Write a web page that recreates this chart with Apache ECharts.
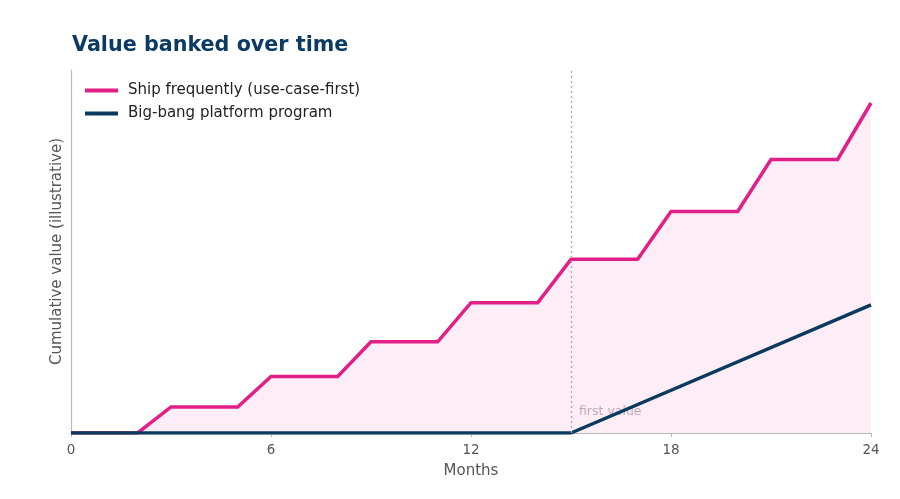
<!DOCTYPE html>
<html>
<head>
<meta charset="utf-8">
<script src="https://cdn.jsdelivr.net/npm/echarts@6/dist/echarts.min.js"></script>
<style>
html,body{margin:0;padding:0;background:#fff;}
#c{width:900px;height:499px;}
</style>
</head>
<body>
<div id="c"></div>
<script>
const months = [0,1,2,3,4,5,6,7,8,9,10,11,12,13,14,15,16,17,18,19,20,21,22,23,24];
const shipValues = [0,0,0,6,6,6,13,13,13,21,21,21,30,30,30,40,40,40,51,51,51,63,63,63,76];
const bigBangMonths = [0,15,24];
const bigBangValues = [0,0,29.5];
const xTicks = [0,6,12,18,24];
const firstValueMonth = 15;
const seriesNames = ['Ship frequently (use-case-first)','Big-bang platform program'];

const FONT = 'DejaVu Sans';
const PINK = '#e21f86';
const NAVY = '#0b3a5e';

const chart = echarts.init(document.getElementById('c'));
chart.setOption({
  animation: false,
  backgroundColor: '#fff',
  textStyle: {fontFamily: FONT},
  title: {
    text: 'Value banked over time',
    left: 67, top: 30,
    textStyle: {fontFamily: FONT, fontWeight: 'bold', fontSize: 20.7, color: '#0b3a63'}
  },
  legend: {
    orient: 'vertical', left: 80, top: 78, itemGap: 8,
    icon: 'rect', itemWidth: 33, itemHeight: 4,
    textStyle: {fontFamily: FONT, fontSize: 15, color: '#222', padding: [0,0,0,5]},
    data: seriesNames
  },
  grid: {left: 71, right: 29, top: 70, bottom: 66},
  xAxis: {
    type: 'value', min: 0, max: 24, interval: 6,
    name: 'Months', nameLocation: 'middle', nameGap: 31,
    nameTextStyle: {fontFamily: FONT, fontSize: 15, color: '#555'},
    axisLine: {lineStyle: {color: '#bbb', width: 1.2}},
    axisTick: {show: true, length: 4, lineStyle: {color: '#bbb'}},
    axisLabel: {fontFamily: FONT, fontSize: 13.5, color: '#555', margin: 10,
      customValues: xTicks},
    splitLine: {show: false}
  },
  yAxis: {
    type: 'value', min: 0, max: 83.6,
    name: 'Cumulative value (illustrative)', nameLocation: 'middle', nameGap: 6,
    nameTextStyle: {fontFamily: FONT, fontSize: 15, color: '#555'},
    axisLine: {show: true, lineStyle: {color: '#bbb', width: 1.2}},
    axisTick: {show: false},
    axisLabel: {show: false},
    splitLine: {show: false}
  },
  series: [
    {
      name: seriesNames[0], type: 'line', z: 3,
      data: months.map((m, i) => [m, shipValues[i]]),
      symbol: 'none', color: PINK,
      lineStyle: {color: PINK, width: 3.5, join: 'miter'},
      areaStyle: {color: PINK, opacity: 0.08},
      markLine: {
        silent: true, symbol: 'none',
        lineStyle: {color: '#aaa', type: [2, 3], width: 1.3},
        label: {show: false},
        data: [{xAxis: firstValueMonth}]
      }
    },
    {
      name: 'annotation', type: 'scatter', z: 2,
      data: [[firstValueMonth, 0]],
      symbolSize: 0, silent: true,
      label: {show: true, formatter: 'first value', position: 'right',
        offset: [3, -21], fontFamily: FONT, fontSize: 12.5, color: 'rgba(140,140,140,0.75)'}
    },
    {
      name: seriesNames[1], type: 'line', z: 4,
      data: bigBangMonths.map((m, i) => [m, bigBangValues[i]]),
      symbol: 'none', color: NAVY,
      lineStyle: {color: NAVY, width: 3.5}
    }
  ]
});
</script>
</body>
</html>
